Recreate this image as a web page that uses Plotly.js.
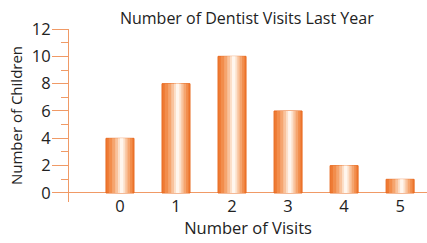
<!DOCTYPE html>
<html><head><meta charset="utf-8">
<script src="https://cdn.plot.ly/plotly-3.0.1.min.js"></script>
<style>html,body{margin:0;padding:0;background:#fff}#chart{width:427px;height:243px}</style>
</head><body><div id="chart"></div>
<script>
const visits = [0, 1, 2, 3, 4, 5];
const children = [4, 8, 10, 6, 2, 1];
const tickValsY = [0, 2, 4, 6, 8, 10, 12];
const chartTitle = 'Number of Dentist Visits Last Year';
const xTitle = 'Number of Visits';
const yTitle = 'Number of Children';

// layered bars to imitate the horizontal gradient (orange edges, light centre)
const layers = [
  {w: 0.50, c: '#EE7A34', off: 0},
  {w: 0.42, c: '#F28D4C', off: 0.01},
  {w: 0.32, c: '#F5A56F', off: 0.02},
  {w: 0.22, c: '#F9C39D', off: 0.025},
  {w: 0.13, c: '#FCE0CA', off: 0.03},
  {w: 0.06, c: '#FFF6EE', off: 0.03}
];
const traces = layers.map((L, i) => ({
  type: 'bar',
  x: visits.map(v => v + L.off),
  y: children,
  width: L.w,
  marker: {color: L.c, line: {width: i === 0 ? 1 : 0, color: '#E86A20'}},
  hoverinfo: 'skip',
  showlegend: false
}));

const font = {family: '"Open Sans", "Noto Sans", sans-serif', color: '#222'};
const axisColor = '#F09A66';
const layout = {
  width: 427, height: 243,
  margin: {l: 69, r: 0, t: 29, b: 41, pad: 0},
  barmode: 'overlay',
  paper_bgcolor: '#fff', plot_bgcolor: '#fff',
  title: {text: chartTitle, x: 0.578, xanchor: 'center', y: 0.925, yanchor: 'middle',
          font: Object.assign({}, font, {size: 16})},
  xaxis: {
    range: [-0.91, 5.48],
    tickvals: visits, ticktext: visits.map(String),
    ticks: '', showline: false, showgrid: false, zeroline: false,
    ticklabelstandoff: -8,
    tickfont: Object.assign({}, font, {size: 16.5}),
    title: {text: xTitle, font: Object.assign({}, font, {size: 16.5}), standoff: 6},
    fixedrange: true
  },
  yaxis: {
    range: [-0.66, 12],
    tickvals: tickValsY, ticktext: tickValsY.map(String),
    ticks: 'outside', ticklen: 16, tickwidth: 1, tickcolor: axisColor,
    minor: {dtick: 1, tick0: 1, ticks: 'outside', ticklen: 7, tickcolor: axisColor, tickwidth: 1},
    showline: true, linecolor: axisColor, linewidth: 1,
    zeroline: true, zerolinecolor: axisColor, zerolinewidth: 1,
    showgrid: false,
    ticklabelstandoff: -2,
    tickfont: Object.assign({}, font, {size: 16.5}),
    title: {text: yTitle, font: Object.assign({}, font, {size: 15}), standoff: 5},
    fixedrange: true
  }
};
Plotly.newPlot('chart', traces, layout, {displayModeBar: false, staticPlot: true});
</script></body></html>
